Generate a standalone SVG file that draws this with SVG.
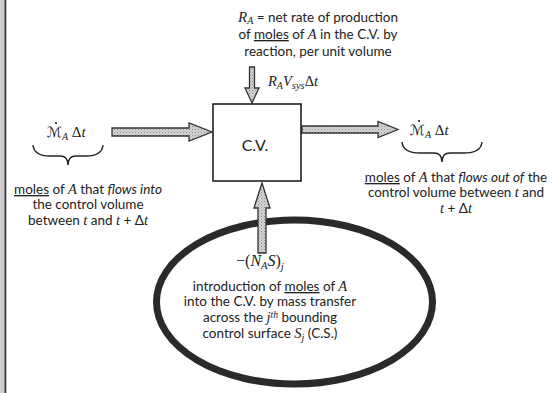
<svg xmlns="http://www.w3.org/2000/svg" width="555" height="393" viewBox="0 0 555 393">
<defs>
<pattern id="stip" width="3" height="3" patternUnits="userSpaceOnUse">
<rect width="3" height="3" fill="#d6d6d6"/>
<rect x="0" y="0" width="1" height="1" fill="#8a8a8a"/>
<rect x="1.5" y="1.5" width="1" height="1" fill="#a0a0a0"/>
</pattern>
</defs>
<style>
.t{font-family:Lato,"Liberation Sans",sans-serif;font-size:13.5px;fill:#222}
.m{font-family:"Liberation Serif","DejaVu Serif",serif;font-style:italic}
.sc{font-family:"DejaVu Sans","DejaVu Serif",sans-serif;font-style:normal;font-size:14px}
.u{text-decoration:underline}
.arrow{fill:url(#stip);stroke:#333;stroke-width:1.3;stroke-linejoin:miter}
.brace{fill:none;stroke:#222;stroke-width:1.4}
</style>
<rect x="0" y="0" width="555" height="393" fill="#fff"/>
<rect x="0" y="0" width="4.5" height="393" fill="#cfcfcf"/>
<rect x="4.5" y="0" width="1.8" height="393" fill="#333"/>

<g id="connectors">
<polygon class="arrow" points="249.5,67 254.5,67 254.5,88 259,88 252,103 245,88 249.5,88"/>
<polygon class="arrow" points="112,128 189,128 189,123 212,132 189,141 189,136 112,136"/>
<polygon class="arrow" points="302,126 378,126 378,121.5 398,129.5 378,137.5 378,133 302,133"/>
</g>

<g id="cv">
<rect x="213" y="104" width="88" height="77" fill="#fff" stroke="#111" stroke-width="1.5"/>
<text class="t" x="255" y="151" text-anchor="middle" style="font-size:16px">C.V.</text>
</g>

<g id="reaction">
<text class="t" x="318" y="22" text-anchor="middle"><tspan class="m" style="font-size:15px">R</tspan><tspan class="m" dy="2" style="font-size:10px">A</tspan><tspan dy="-2"> = net rate of production</tspan></text>
<text class="t" x="318" y="39" text-anchor="middle">of <tspan class="u">moles</tspan> of <tspan class="m" style="font-size:14.5px">A</tspan> in the C.V. by</text>
<text class="t" x="318" y="56" text-anchor="middle">reaction, per unit volume</text>
<text class="t m" x="268" y="86" style="font-size:14.5px">R<tspan dy="3" style="font-size:10px">A</tspan><tspan dy="-3">V</tspan><tspan dy="3" style="font-size:10.5px">sys</tspan><tspan dy="-3" style="font-style:normal">Δ</tspan>t</text>
</g>

<g id="inflow">
<text class="t" x="47" y="137" style="font-size:15px"><tspan class="sc">ℳ</tspan><tspan class="m" dy="3" style="font-size:10px">A</tspan><tspan dy="-3" class="m" style="font-style:normal"> Δ</tspan><tspan class="m">t</tspan></text>
<circle cx="56" cy="123" r="1.1" fill="#222"/>
<path class="brace" d="M33,145 Q34,156 50,156 L60,156 Q68,156 68,165 Q68,156 76,156 L86,156 Q102,156 103,145"/>
<text class="t" x="88" y="194" text-anchor="middle"><tspan class="u">moles</tspan> of <tspan class="m" style="font-size:14.5px">A</tspan> that <tspan style="font-style:italic">flows into</tspan></text>
<text class="t" x="88" y="209" text-anchor="middle">the control volume</text>
<text class="t" x="88" y="225" text-anchor="middle">between <tspan class="m" style="font-size:14.5px">t</tspan> and <tspan class="m" style="font-size:14.5px">t</tspan> + Δ<tspan class="m" style="font-size:14.5px">t</tspan></text>
</g>

<g id="outflow">
<text class="t" x="410" y="135" style="font-size:15px"><tspan class="sc">ℳ</tspan><tspan class="m" dy="3" style="font-size:10px">A</tspan><tspan dy="-3" class="m" style="font-style:normal"> Δ</tspan><tspan class="m">t</tspan></text>
<circle cx="419" cy="121" r="1.1" fill="#222"/>
<path class="brace" d="M402,142 Q403,153 420,153 L434,153 Q442,153 442,162 Q442,153 450,153 L464,153 Q481,153 482,142"/>
<text class="t" x="456" y="182" text-anchor="middle"><tspan class="u">moles</tspan> of <tspan class="m" style="font-size:14.5px">A</tspan> that <tspan style="font-style:italic">flows out of</tspan> the</text>
<text class="t" x="456" y="197" text-anchor="middle">control volume between <tspan class="m" style="font-size:14.5px">t</tspan> and</text>
<text class="t" x="456" y="213" text-anchor="middle"><tspan class="m" style="font-size:14.5px">t</tspan> + Δ<tspan class="m" style="font-size:14.5px">t</tspan></text>
</g>

<g id="surface">
<ellipse cx="294.5" cy="302" rx="138" ry="82" fill="none" stroke="#2a2a2a" stroke-width="7"/>
<polygon class="arrow" points="258,253 266,253 266,208 270,208 262,183 254,208 258,208"/>
<text class="t m" x="260" y="266" text-anchor="middle" style="font-size:16px"><tspan style="font-style:normal">−(</tspan>N<tspan dy="3" style="font-size:10.5px">A</tspan><tspan dy="-3">S</tspan><tspan style="font-style:normal">)</tspan><tspan dy="4" style="font-size:11px">j</tspan></text>
<text class="t" x="270" y="291" text-anchor="middle">introduction of <tspan class="u">moles</tspan> of <tspan class="m" style="font-size:14.5px">A</tspan></text>
<text class="t" x="270" y="306" text-anchor="middle">into the C.V. by mass transfer</text>
<text class="t" x="270" y="322" text-anchor="middle">across the <tspan class="m" style="font-size:14.5px">j</tspan><tspan class="m" dy="-4.5" style="font-size:9.5px">th</tspan><tspan dy="4.5"> bounding</tspan></text>
<text class="t" x="270" y="338" text-anchor="middle">control surface <tspan class="m" style="font-size:14.5px">S</tspan><tspan class="m" dy="3" style="font-size:10px">j</tspan><tspan dy="-3"> (C.S.)</tspan></text>
</g>
</svg>
